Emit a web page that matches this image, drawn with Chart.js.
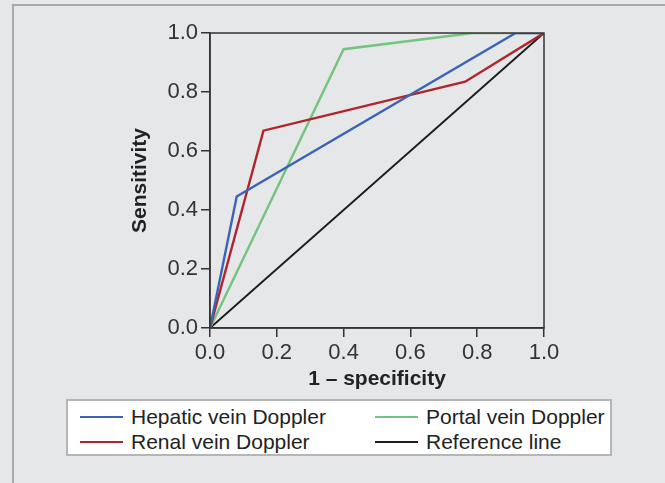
<!DOCTYPE html>
<html>
<head>
<meta charset="utf-8">
<script src="https://cdn.jsdelivr.net/npm/chart.js@4"></script>
<style>
  body { margin: 0; background: #e6e7e9; font-family: "Liberation Sans", Arial, sans-serif; }
  #wrap { position: relative; width: 665px; height: 483px; overflow: hidden; }
  #frame { position: absolute; left: 12px; top: 4px; width: 700px; height: 600px; border-left: 2px solid #a9a9ab; border-top: 2px solid #a9a9ab; }
  canvas { position: absolute; left: 0; top: 0; }
  #legend { position: absolute; left: 66px; top: 399px; width: 542px; height: 53px; background: #fff; border: 2px solid #b5b5b7; }
  .item { position: absolute; height: 24px; line-height: 24px; font-size: 21px; color: #222; white-space: nowrap; }
  .item span.line { position: absolute; left: 0; top: 11px; width: 43px; height: 2px; }
  .item span.txt { position: absolute; left: 51px; top: 0; }
</style>
</head>
<body>
<div id="wrap">
  <div id="frame"></div>
  <canvas id="roc" width="665" height="483"></canvas>
  <div id="legend"></div>
</div>
<script>
const nomes = ["Hepatic vein Doppler", "Renal vein Doppler", "Portal vein Doppler", "Reference line"];
const cores = ["#3d63b6", "#b0242a", "#74c47f", "#1c1c1c"];

// 1 - especificidade (x) e sensibilidade (y)
const hepaticX = [0, 0.08, 0.915, 1];
const hepaticY = [0, 0.446, 1, 1];
const renalX = [0, 0.16, 0.764, 1];
const renalY = [0, 0.669, 0.835, 1];
const portalX = [0, 0.4, 0.787, 1];
const portalY = [0, 0.945, 1, 1];
const refX = [0, 1];
const refY = [0, 1];

const ticksVal = [0, 0.2, 0.4, 0.6, 0.8, 1.0];

function pontos(xs, ys) {
  return xs.map((x, i) => ({ x: x, y: ys[i] }));
}

const series = [
  pontos(hepaticX, hepaticY),
  pontos(renalX, renalY),
  pontos(portalX, portalY),
  pontos(refX, refY)
];

Chart.defaults.font.family = '"Liberation Sans", Arial, sans-serif';
Chart.defaults.color = "#333";

const bordaPlot = {
  id: "bordaPlot",
  afterDatasetsDraw(chart) {
    const a = chart.chartArea;
    const ctx = chart.ctx;
    ctx.save();
    ctx.strokeStyle = "#333";
    ctx.lineWidth = 1.5;
    ctx.strokeRect(a.left, a.top, a.right - a.left, a.bottom - a.top);
    ctx.restore();
  }
};

const eixo = (titulo, larg, alt) => ({
  type: "linear",
  min: 0,
  max: 1,
  afterBuildTicks: (s) => { s.ticks = ticksVal.map(v => ({ value: v })); },
  afterFit: (s) => { if (larg) s.width = larg; if (alt) s.height = alt; },
  border: { display: true, color: "#333", width: 1.5 },
  grid: { drawOnChartArea: false, drawTicks: true, tickLength: 9, color: "#333", lineWidth: 1.5 },
  ticks: {
    padding: 3,
    color: "#333",
    font: { size: 22 },
    callback: (v) => Number(v).toFixed(1)
  },
  title: {
    display: true,
    text: titulo,
    color: "#222",
    font: { size: 21, weight: "bold" },
    padding: { top: 4, bottom: 4 }
  }
});

new Chart(document.getElementById("roc"), {
  type: "scatter",
  data: {
    datasets: series.map((d, i) => ({
      label: nomes[i],
      data: d,
      showLine: true,
      borderColor: cores[i],
      backgroundColor: cores[i],
      borderWidth: i === 3 ? 2 : 2.4,
      pointRadius: 0,
      tension: 0
    }))
  },
  options: {
    responsive: false,
    animation: false,
    layout: { padding: { left: 124, right: 121, top: 33, bottom: 87 } },
    plugins: { legend: { display: false }, tooltip: { enabled: false } },
    scales: {
      x: eixo("1 \u2013 specificity", null, 68),
      y: eixo("Sensitivity", 86, null)
    }
  },
  plugins: [bordaPlot]
});

// legenda em duas colunas
const legenda = document.getElementById("legend");
const posLeg = [[12, 4], [12, 29], [307, 4], [307, 29]];
nomes.forEach((n, i) => {
  const pos = posLeg[i];
  const item = document.createElement("div");
  item.className = "item";
  item.style.left = pos[0] + "px";
  item.style.top = pos[1] + "px";
  item.innerHTML = `<span class="line" style="background:${cores[i]}"></span><span class="txt">${n}</span>`;
  legenda.appendChild(item);
});
</script>
</body>
</html>
